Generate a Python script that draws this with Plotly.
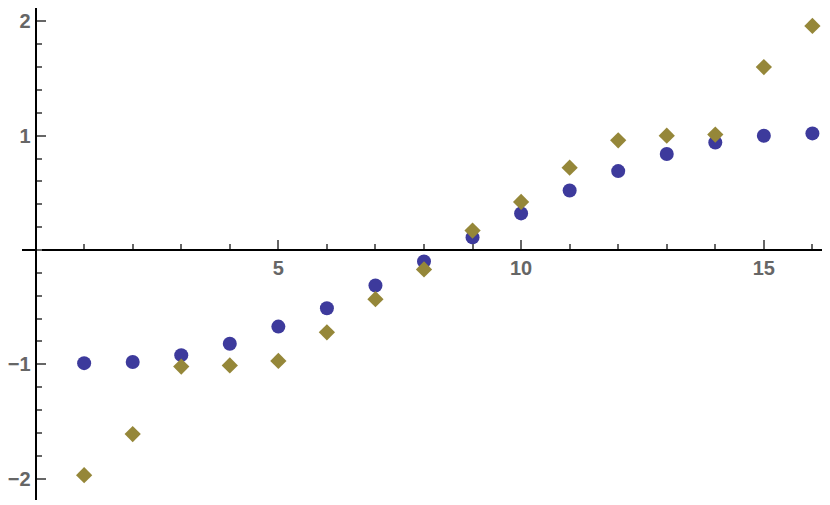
import plotly.graph_objects as go

x = list(range(1, 17))
circles = [-0.99, -0.98, -0.92, -0.82, -0.67, -0.51, -0.31, -0.10,
           0.11, 0.32, 0.52, 0.69, 0.84, 0.94, 1.00, 1.02]
diamonds = [-1.97, -1.61, -1.02, -1.01, -0.97, -0.72, -0.43, -0.17,
            0.17, 0.42, 0.72, 0.96, 1.00, 1.01, 1.60, 1.96]

x_ticks = [5, 10, 15]
y_ticks = [-2, -1, 1, 2]

# page body has an 8px margin, so the figure is shrunk and shifted to fit
x_range = [-0.28, 16.28]
y_range = [-2.187, 2.117]

fig = go.Figure()
fig.add_trace(go.Scatter(x=x, y=circles, mode='markers',
                         marker=dict(symbol='circle', size=14, color='#3d3a9c')))
fig.add_trace(go.Scatter(x=x, y=diamonds, mode='markers',
                         marker=dict(symbol='diamond', size=12.5, color='#958739')))

tickfont = dict(family='Liberation Sans', size=20, color='#666666', weight='bold')

fig.update_layout(
    width=822, height=497,
    margin=dict(l=10, r=4, t=0, b=5),
    paper_bgcolor='white', plot_bgcolor='white',
    showlegend=False,
    xaxis=dict(range=x_range, showgrid=False, zeroline=False,
               showline=True, linecolor='black', linewidth=2,
               anchor='free', position=(0 - y_range[0]) / (y_range[1] - y_range[0]),
               tickmode='array', tickvals=x_ticks,
               ticks='inside', ticklen=9, tickwidth=2, tickcolor='#666666',
               minor=dict(tickmode='array', tickvals=[v for v in range(1, 17) if v % 5],
                          ticks='inside', ticklen=5, tickwidth=2, tickcolor='#666666'),
               tickfont=tickfont),
    yaxis=dict(range=y_range, showgrid=False, zeroline=False,
               showline=True, linecolor='black', linewidth=2,
               anchor='free', position=(0 - x_range[0]) / (x_range[1] - x_range[0]),
               tickmode='array', tickvals=y_ticks,
               ticks='inside', ticklen=9, tickwidth=2, tickcolor='#666666',
               minor=dict(tickmode='array',
                          tickvals=[round(-2.2 + 0.2 * i, 1) for i in range(23)],
                          ticks='inside', ticklen=5, tickwidth=2, tickcolor='#666666'),
               tickfont=tickfont),
)

fig.write_html("out.html")
